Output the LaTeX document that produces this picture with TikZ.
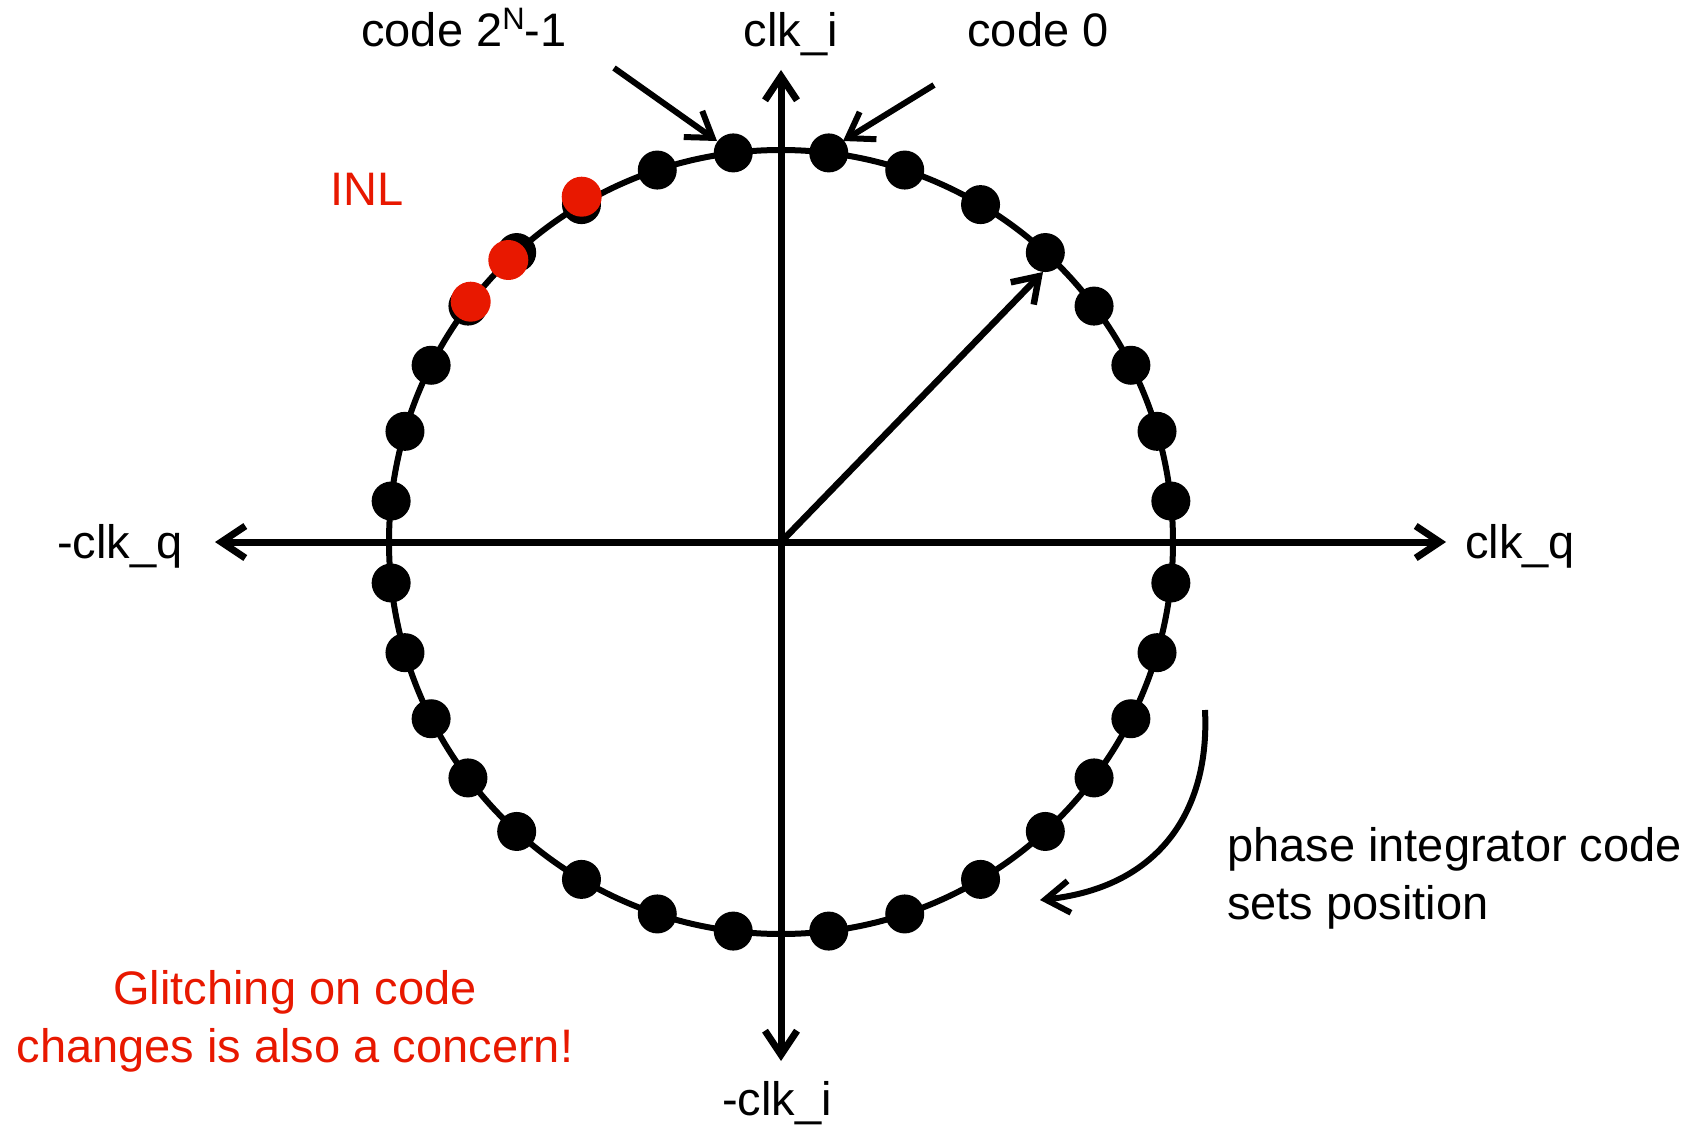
\documentclass[tikz,border=0pt]{standalone}
\usepackage{fontspec}
\setmainfont{Liberation Sans}
\usetikzlibrary{arrows.meta}
\definecolor{alertred}{RGB}{232,24,0}
\tikzset{
  barb/.tip={Straight Barb[length=24pt,width=32pt]},
  axisline/.style={line width=7pt,black},
  ringline/.style={line width=6pt,black},
  ptr/.style={line width=6pt,black,-barb},
  dotnode/.style={circle,fill=black,minimum size=39pt,inner sep=0pt},
  reddot/.style={circle,fill=alertred,minimum size=40pt,inner sep=0pt},
  lbl/.style={inner sep=0pt,font=\fontsize{47}{56}\selectfont},
}
\newcommand{\supN}{\raisebox{17pt}{\fontsize{31}{31}\selectfont N}}
\begin{document}
\begin{tikzpicture}[x=1pt,y=-1pt]
\useasboundingbox[fill=white] (0,0) rectangle (1701,1126);
\coordinate (o) at (781,542);
\coordinate (L) at (215,542);
\coordinate (R) at (1446,542);
\coordinate (T) at (781,70);
\coordinate (B) at (781,1061);
% circle
\draw[ringline] (o) circle[radius=392];
% axes
\draw[axisline,barb-barb] (L) -- (R);
\draw[axisline,barb-barb] (B) -- (T);
% dots
\foreach \a [count=\i] in {6,16.4,26.8,37,47.6,59.4,71.6,83,
  -6,-16.4,-26.8,-37,-47.6,-59.4,-71.6,-83,
  186,196.4,206.8,217,227.6,239.4,251.6,263,
  174,163.6,153.2,143,132.4,120.6,108.4,97}
  \node[dotnode] (d\i) at ({781+392*cos(\a)},{542-392*sin(\a)}) {};
% INL red dots
\node[reddot] (r1) at (581.7,196.7) {};
\node[reddot] (r2) at (508.3,260) {};
\node[reddot] (r3) at (470.7,301.7) {};
% radial arrow
\coordinate (rt) at (1043,272);
\draw[ptr,line width=6.5pt] (o) -- (rt);
% code arrows
\coordinate (a1s) at (614,68);
\coordinate (a1e) at (717,141);
\coordinate (a2s) at (934,85);
\coordinate (a2e) at (843,141);
\draw[ptr] (a1s) -- (a1e);
\draw[ptr] (a2s) -- (a2e);
% curved arrow
\coordinate (cs) at (1205,710);
\coordinate (ce) at (1040,900);
\draw[ptr] (cs) .. controls (1210,810) and (1160,887) .. (ce);
% labels
\node[lbl,anchor=base] (c2n) at (464,47) {code 2\supN-1};
\node[lbl,anchor=base] (ci) at (791,47) {clk\_i};
\node[lbl,anchor=base] (c0) at (1038,47) {code 0};
\node[lbl,anchor=base,text=alertred] (inl) at (367,206) {INL};
\node[lbl,anchor=base] (mq) at (120,558) {-clk\_q};
\node[lbl,anchor=base] (q) at (1520,558) {clk\_q};
\node[lbl,anchor=base] (mi) at (777,1115) {-clk\_i};
\node[lbl,anchor=base west] (p1) at (1227,861) {phase integrator code};
\node[lbl,anchor=base west] (p2) at (1227,919) {sets position};
\node[lbl,anchor=base,text=alertred] (g1) at (295,1004) {Glitching on code};
\node[lbl,anchor=base,text=alertred] (g2) at (295,1062) {changes is also a concern!};
\end{tikzpicture}
\end{document}
